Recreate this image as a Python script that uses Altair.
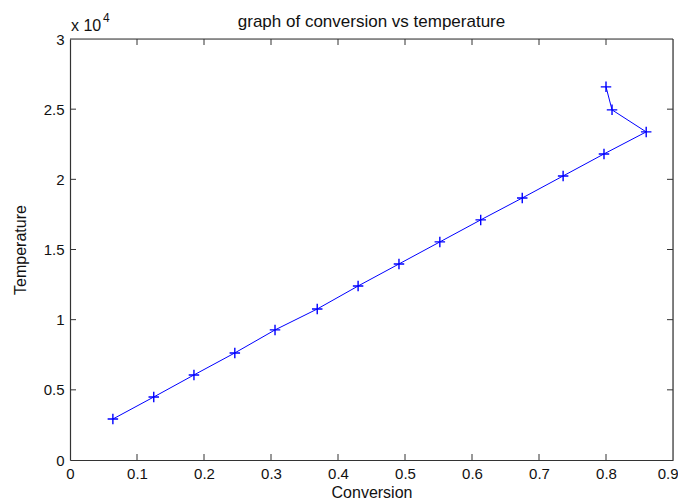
import altair as alt
import pandas as pd

# data
conversion = [0.064, 0.125, 0.185, 0.246, 0.306, 0.369, 0.430, 0.491,
              0.552, 0.613, 0.675, 0.736, 0.797, 0.860, 0.809, 0.800]
temperature = [2920, 4490, 6060, 7630, 9270, 10760, 12400, 13970,
               15540, 17110, 18670, 20240, 21810, 23380, 24950, 26590]
x_ticks = [0, 0.1, 0.2, 0.3, 0.4, 0.5, 0.6, 0.7, 0.8, 0.9]
y_ticks = [0, 5000, 10000, 15000, 20000, 25000, 30000]

df = pd.DataFrame({"conv": conversion, "temp": temperature,
                   "idx": list(range(len(conversion)))})
xt = pd.DataFrame({"v": x_ticks[1:-1]})
yt = pd.DataFrame({"v": y_ticks[1:-1]})

W, H = 603, 421
FONT = "Liberation Sans"
AX = "#333333"
BLUE = "#0000ff"

xs = alt.Scale(domain=[0, 0.9], nice=False, zero=False)
ys = alt.Scale(domain=[0, 30000], nice=False, zero=False)

x_axis = alt.Axis(values=x_ticks, format=".1~f", ticks=False, grid=False,
                  domain=True, domainColor=AX, domainWidth=1.2,
                  labelFont=FONT, labelFontSize=15,
                  labelColor="#111", labelPadding=6, title="Conversion",
                  titleFont=FONT, titleFontSize=16, titleFontWeight="normal",
                  titleColor="#111", titleY=24, titleBaseline="top",
                  labelFlush=False,
                  labelAlign={"condition": {"test": "datum.value > 0.85",
                                            "value": "right"},
                              "value": "center"},
                  labelOffset={"condition": {"test": "datum.value > 0.85",
                                             "value": 5},
                               "value": 0})
y_axis = alt.Axis(values=y_ticks, labelExpr="format(datum.value/10000, '~g')",
                  ticks=False, grid=False, domain=True, domainColor=AX,
                  domainWidth=1.2, labelFont=FONT,
                  labelFontSize=15, labelColor="#111", labelPadding=6,
                  title="Temperature", titleFont=FONT, titleFontSize=16,
                  titleFontWeight="normal", titleColor="#111", titleX=-45,
                  titleBaseline="alphabetic", labelFlush=False)

line = alt.Chart(df).mark_line(color=BLUE, strokeWidth=1).encode(
    x=alt.X("conv:Q", scale=xs, axis=x_axis),
    y=alt.Y("temp:Q", scale=ys, axis=y_axis),
    order="idx:Q",
)
pts = alt.Chart(df).mark_point(
    shape="M-1,0L1,0M0,-1L0,1", size=110, filled=False,
    color=BLUE, strokeWidth=1.4, opacity=1,
).encode(x=alt.X("conv:Q", scale=xs), y=alt.Y("temp:Q", scale=ys))

tick_len = 6
xb = alt.Chart(xt).mark_rule(color=AX, strokeWidth=1).encode(
    x=alt.X("v:Q", scale=xs), y=alt.value(H), y2=alt.value(H - tick_len))
xtop = alt.Chart(xt).mark_rule(color=AX, strokeWidth=1).encode(
    x=alt.X("v:Q", scale=xs), y=alt.value(0), y2=alt.value(tick_len))
yl = alt.Chart(yt).mark_rule(color=AX, strokeWidth=1).encode(
    y=alt.Y("v:Q", scale=ys), x=alt.value(0), x2=alt.value(tick_len))
yr = alt.Chart(yt).mark_rule(color=AX, strokeWidth=1).encode(
    y=alt.Y("v:Q", scale=ys), x=alt.value(W), x2=alt.value(W - tick_len))

one = pd.DataFrame({"t": ["graph of conversion vs temperature"],
                    "m": ["x 10"], "e": ["4"]})
frame_top = alt.Chart(one).mark_rule(color=AX, strokeWidth=1.2).encode(
    x=alt.value(0), x2=alt.value(W), y=alt.value(0))
frame_right = alt.Chart(one).mark_rule(color=AX, strokeWidth=1.2).encode(
    x=alt.value(W), y=alt.value(0), y2=alt.value(H))

title = alt.Chart(one).mark_text(font=FONT, fontSize=17, color="#111",
                                 align="center", baseline="alphabetic").encode(
    text="t:N", x=alt.value(W / 2), y=alt.value(-12))
mult = alt.Chart(one).mark_text(font=FONT, fontSize=16, color="#111",
                                align="left", baseline="alphabetic").encode(
    text="m:N", x=alt.value(1), y=alt.value(-8))
expo = alt.Chart(one).mark_text(font=FONT, fontSize=12, color="#111",
                                align="left", baseline="alphabetic").encode(
    text="e:N", x=alt.value(33), y=alt.value(-17))

chart = alt.layer(line, pts, xb, xtop, yl, yr, frame_top, frame_right,
                  title, mult, expo).properties(
    width=W, height=H,
    autosize=alt.AutoSizeParams(type="none"),
    padding={"left": 62, "top": 31, "right": 5, "bottom": 40},
).configure_view(stroke=None).configure(background="white")

chart.save("out.html", embed_options={"renderer": "svg", "actions": False})
